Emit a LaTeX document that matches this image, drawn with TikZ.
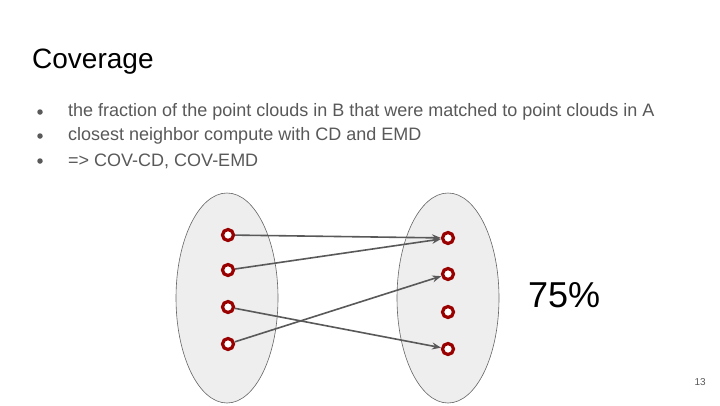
\documentclass[tikz,border=0pt]{standalone}
\usepackage{fontspec}
\setmainfont{Liberation Sans}
\usetikzlibrary{arrows.meta}
\definecolor{txtgray}{HTML}{595959}
\definecolor{ptred}{HTML}{990000}
\definecolor{ellfill}{HTML}{EEEEEE}
\begin{document}
\begin{tikzpicture}[x=1pt,y=-1pt,
  cloud/.style={draw=black!60,fill=ellfill,line width=0.6pt},
  pt/.style={circle,draw=ptred,fill=white,line width=3.2pt,minimum size=11pt,inner sep=0pt},
  conn/.style={draw=txtgray,line width=1.6pt,-{Stealth[length=9pt,width=7pt]}},
  dot/.style={circle,fill=txtgray,inner sep=0pt,minimum size=5.5pt},
  bullet/.style={anchor=west,text=txtgray,font=\fontsize{18}{21}\selectfont,inner sep=0pt}]
\useasboundingbox (0,0) rectangle (720,405);
\fill[white] (0,0) rectangle (720,405);
\node[anchor=base west,inner sep=0pt,font=\fontsize{28}{32}\selectfont] (title) at (32,68) {Coverage};
\foreach \y/\t [count=\i] in {112/{the fraction of the point clouds in B that were matched to point clouds in A},136/{closest neighbor compute with CD and EMD},161/{=> COV-CD, COV-EMD}}{
  \node[dot] (b\i) at (40,\y) {};
  \node[bullet] (l\i) at (68,\y) {\t};
}
\draw[cloud] (227,298) ellipse [x radius=51,y radius=105];
\draw[cloud] (448,298) ellipse [x radius=51,y radius=105];
\node[pt] (a1) at (228,235) {};
\node[pt] (a2) at (228,270) {};
\node[pt] (a3) at (228,307) {};
\node[pt] (a4) at (228,344) {};
\node[pt] (c1) at (448,238) {};
\node[pt] (c2) at (448,274) {};
\node[pt] (c3) at (448,312) {};
\node[pt] (c4) at (448,349) {};
\draw[conn] (a1) -- (c1);
\draw[conn] (a2) -- (c1);
\draw[conn] (a3) -- (c4);
\draw[conn] (a4) -- (c2);
\node[anchor=west,inner sep=0pt,font=\fontsize{36}{40}\selectfont] (pct) at (528,295) {75\%};
\node[anchor=east,inner sep=0pt,text=txtgray,font=\fontsize{10}{12}\selectfont] (pg) at (706,382) {13};
\end{tikzpicture}
\end{document}
